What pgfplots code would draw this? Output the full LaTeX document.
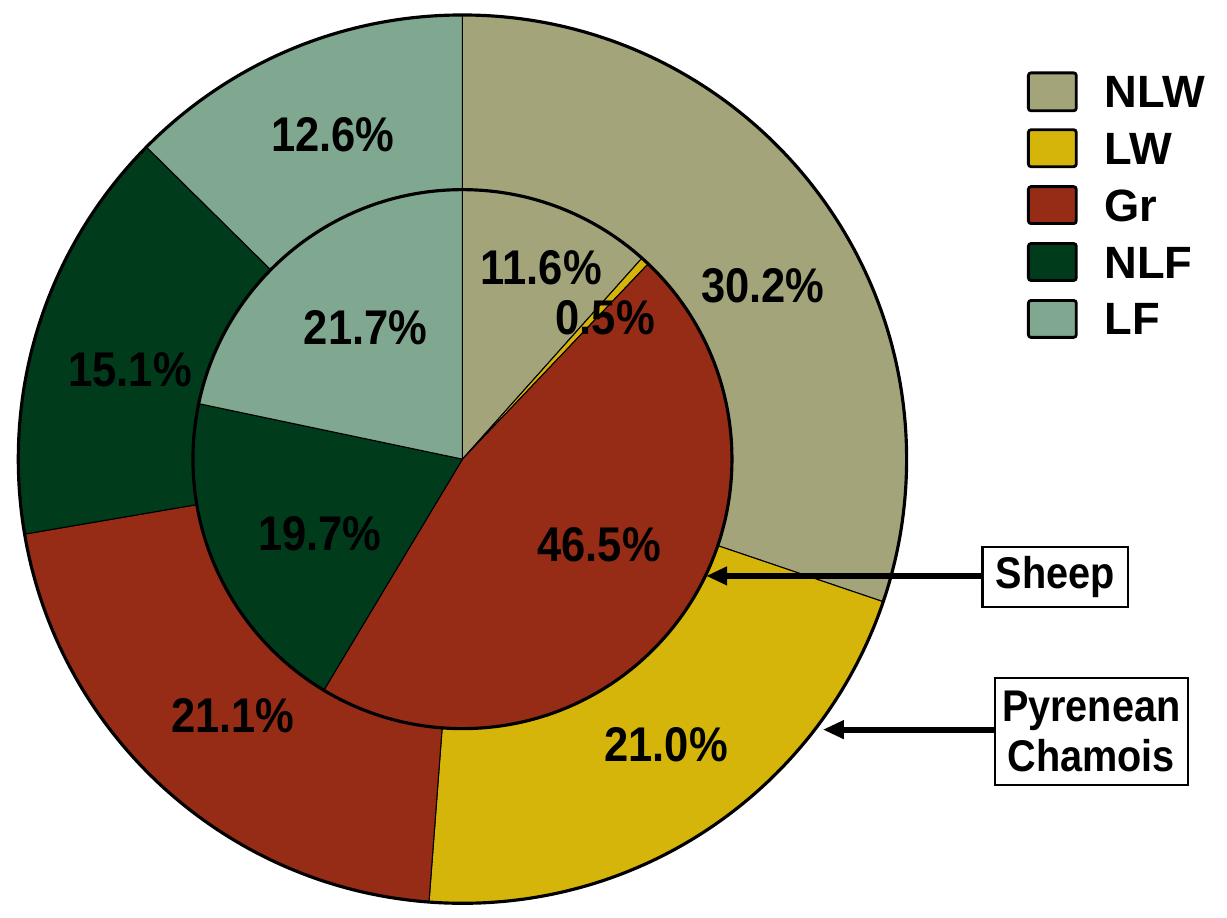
\documentclass[border=0pt]{standalone}
\usepackage{pgfplots}
\pgfplotsset{compat=1.18}
\usepackage{fontspec}
\setmainfont{Liberation Sans}
\usetikzlibrary{arrows.meta}

\definecolor{cNLW}{RGB}{163,164,122}
\definecolor{cLW}{RGB}{214,181,10}
\definecolor{cGr}{RGB}{150,43,22}
\definecolor{cNLF}{RGB}{0,60,28}
\definecolor{cLF}{RGB}{128,168,144}

\newcommand\lbl{\fontsize{24.8pt}{29pt}\selectfont\bfseries}
\newcommand\callout{\fontsize{22.6pt}{27pt}\selectfont\bfseries}
\newcommand\leg{\fontsize{25.8pt}{30pt}\selectfont\bfseries}
\newcommand\tall[1]{\scalebox{1}[1.12]{#1}}

% one ring of the donut: radius, then percent/colour pairs, clockwise from 12 o'clock
\newcommand\piering[2]{%
  \gdef\pieacc{90}%
  \foreach \v/\c in {#2}{%
    \pgfmathsetmacro\pa{\pieacc}%
    \pgfmathsetmacro\pb{\pieacc-3.6*\v}%
    \filldraw[fill=\c, draw=black, line width=0.6pt, line join=round]
      (axis cs:461,460) -- ++(\pa:#1) arc[start angle=\pa, end angle=\pb, radius=#1] -- cycle;
    \xdef\pieacc{\pb}%
  }%
}

\begin{document}
\begin{tikzpicture}
\begin{axis}[
  scale only axis, x=0.2mm, y=0.2mm,
  xmin=0, xmax=1227, ymin=0, ymax=908, y dir=reverse,
  hide axis, clip=false]
\pgfplotsextra{%
  \path (axis cs:0,0) rectangle (axis cs:1227,908);
  % Pyrenean Chamois (outer ring)
  \piering{89mm}{30.2/cNLW, 21.0/cLW, 21.1/cGr, 15.1/cNLF, 12.6/cLF}
  \draw[line width=1.8pt] (axis cs:461,460) circle[radius=89mm];
  % Sheep (inner ring)
  \piering{54mm}{11.6/cNLW, 0.5/cLW, 46.5/cGr, 19.7/cNLF, 21.7/cLF}
  \draw[line width=1.8pt] (axis cs:461,460) circle[radius=54mm];
}
% slice labels
\node[font=\lbl] at (axis cs:762,286) {\tall{30.2\%}};
\node[font=\lbl] at (axis cs:665,746) {\tall{21.0\%}};
\node[font=\lbl] at (axis cs:231,717) {\tall{21.1\%}};
\node[font=\lbl] at (axis cs:128,370) {\tall{15.1\%}};
\node[font=\lbl] at (axis cs:331,135) {\tall{12.6\%}};
\node[font=\lbl] at (axis cs:540,268) {\tall{11.6\%}};
\node[font=\lbl] at (axis cs:604,318) {\tall{0.5\%}};
\node[font=\lbl] at (axis cs:598,546) {\tall{46.5\%}};
\node[font=\lbl] at (axis cs:318,535) {\tall{19.7\%}};
\node[font=\lbl] at (axis cs:364,328) {\tall{21.7\%}};
% legend
\draw[fill=cNLW, line width=1.6pt, rounded corners=1.5pt] (axis cs:1028,73) rectangle (axis cs:1076,111);
\draw[fill=cLW, line width=1.6pt, rounded corners=1.5pt] (axis cs:1028,130) rectangle (axis cs:1076,167);
\draw[fill=cGr, line width=1.6pt, rounded corners=1.5pt] (axis cs:1028,187) rectangle (axis cs:1076,224);
\draw[fill=cNLF, line width=1.6pt, rounded corners=1.5pt] (axis cs:1028,244) rectangle (axis cs:1076,281);
\draw[fill=cLF, line width=1.6pt, rounded corners=1.5pt] (axis cs:1028,301) rectangle (axis cs:1076,338);
\node[font=\leg, anchor=west, inner sep=0pt] at (axis cs:1104,92) {NLW};
\node[font=\leg, anchor=west, inner sep=0pt] at (axis cs:1104,149) {LW};
\node[font=\leg, anchor=west, inner sep=0pt] at (axis cs:1104,206) {Gr};
\node[font=\leg, anchor=west, inner sep=0pt] at (axis cs:1104,263) {NLF};
\node[font=\leg, anchor=west, inner sep=0pt] at (axis cs:1104,320) {LF};
% ring call-outs
\node[font=\callout, draw, line width=1.2pt, minimum width=29.2mm, minimum height=12mm, inner sep=2pt] (sh) at (axis cs:1055,578) {\tall{Sheep}};
\node[font=\callout, draw, line width=1.2pt, align=center, minimum width=38.6mm, minimum height=21.4mm, inner sep=2pt] (ch) at (axis cs:1091,733) {\tall{Pyrenean}\\[1.5pt]\tall{Chamois}};
\draw[line width=3.3pt, -{Triangle[length=12pt, width=10pt]}] (axis cs:982,577) -- (axis cs:705,577);
\draw[line width=3.3pt, -{Triangle[length=12pt, width=10pt]}] (axis cs:995,731) -- (axis cs:822,731);
\end{axis}
\end{tikzpicture}
\end{document}
